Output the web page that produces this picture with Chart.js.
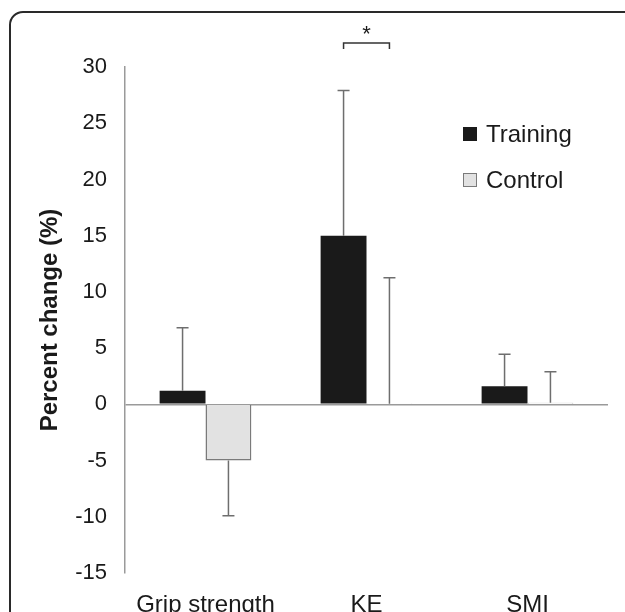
<!DOCTYPE html>
<html>
<head>
<meta charset="utf-8">
<script src="https://cdn.jsdelivr.net/npm/chart.js@4.4.1/dist/chart.umd.min.js"></script>
<style>
  html, body { margin: 0; padding: 0; background: #fff; }
  #wrap { position: relative; width: 625px; height: 612px; }
</style>
</head>
<body>
<div id="wrap"><canvas id="barChart"></canvas></div>
<script>
// data
const categories = ['Grip strength', 'KE', 'SMI'];
const trainingValues = [1.2, 15.0, 1.6];
const controlValues = [-5.0, 0.05, 0.15];
// one-sided error bars (SD), drawn away from zero
const trainingErrors = [5.6, 12.9, 2.85];
const controlErrors = [4.9, 11.2, 2.75];
const yTicks = [-15, -10, -5, 0, 5, 10, 15, 20, 25, 30];
// significance marker: category index + label
const sigCategory = 1;
const sigLabel = '*';

Chart.defaults.font.family = "'Liberation Sans', Arial, sans-serif";
Chart.defaults.color = '#1a1a1a';

// frame around the figure, cut off at right/bottom like the original
const framePlugin = {
    id: 'frame',
    beforeDraw(chart) {
        const ctx = chart.ctx;
        ctx.save();
        ctx.strokeStyle = '#2a2a2a';
        ctx.lineWidth = 2;
        ctx.beginPath();
        ctx.roundRect(10, 12, 640, 640, 13);
        ctx.stroke();
        ctx.restore();
    }
};

// error bars + significance bracket + legend
const extrasPlugin = {
    id: 'extras',
    afterDatasetsDraw(chart) {
        const ctx = chart.ctx;
        const y = chart.scales.y;
        const errs = [trainingErrors, controlErrors];
        ctx.save();
        ctx.strokeStyle = '#6e6e6e';
        ctx.lineWidth = 1.5;
        chart.data.datasets.forEach((ds, di) => {
            const meta = chart.getDatasetMeta(di);
            meta.data.forEach((bar, i) => {
                const v = ds.data[i];
                const e = errs[di][i];
                const end = v >= 0 ? v + e : v - e;
                const y0 = y.getPixelForValue(v);
                const y1 = y.getPixelForValue(end);
                ctx.beginPath();
                ctx.moveTo(bar.x, y0);
                ctx.lineTo(bar.x, y1);
                ctx.moveTo(bar.x - 6, y1);
                ctx.lineTo(bar.x + 6, y1);
                ctx.stroke();
            });
        });

        // bracket above KE
        const a = chart.getDatasetMeta(0).data[sigCategory];
        const b = chart.getDatasetMeta(1).data[sigCategory];
        ctx.strokeStyle = '#333';
        ctx.lineWidth = 1.5;
        ctx.beginPath();
        ctx.moveTo(a.x, 49);
        ctx.lineTo(a.x, 43);
        ctx.lineTo(b.x, 43);
        ctx.lineTo(b.x, 49);
        ctx.stroke();
        ctx.fillStyle = '#1a1a1a';
        ctx.font = "22px 'Liberation Sans', Arial, sans-serif";
        ctx.textAlign = 'center';
        ctx.textBaseline = 'middle';
        ctx.fillText(sigLabel, (a.x + b.x) / 2, 35);

        // legend
        ctx.textAlign = 'left';
        ctx.font = "24px 'Liberation Sans', Arial, sans-serif";
        chart.data.datasets.forEach((ds, di) => {
            const ly = 134 + di * 46;
            ctx.fillStyle = ds.backgroundColor;
            ctx.fillRect(463, ly - 7, 14, 14);
            ctx.strokeStyle = di === 0 ? '#1a1a1a' : '#7a7a7a';
            ctx.lineWidth = 1;
            ctx.strokeRect(463.5, ly - 6.5, 13, 13);
            ctx.fillStyle = '#1a1a1a';
            ctx.fillText(ds.label, 486, ly + 1);
        });
        ctx.restore();
    }
};

const bar = document.getElementById('barChart');
new Chart(bar, {
    type: 'bar',
    data: {
        labels: categories,
        datasets: [{
            label: 'Training',
            data: trainingValues,
            backgroundColor: '#1a1a1a',
            borderColor: '#1a1a1a',
            borderWidth: 0
        }, {
            label: 'Control',
            data: controlValues,
            backgroundColor: '#e2e2e2',
            borderColor: '#7a7a7a',
            borderWidth: 1.5
        }]
    },
    options: {
        responsive: true,
        maintainAspectRatio: false,
        animation: false,
        layout: { padding: { left: 36, right: 17, top: 67, bottom: 0 } },
        datasets: { bar: { categoryPercentage: 0.57, barPercentage: 1 } },
        scales: {
            x: {
                grid: { display: false, drawTicks: false },
                border: { display: false },
                ticks: { font: { size: 24 }, padding: 18, color: '#1a1a1a' },
                afterFit: (s) => { s.height = 612 - 573; }
            },
            y: {
                min: -15,
                max: 30,
                afterBuildTicks: (s) => { s.ticks = yTicks.map(v => ({ value: v })); },
                afterFit: (s) => { s.width = 125 - 36; },
                grid: {
                    drawTicks: false,
                    color: (c) => c.tick && c.tick.value === 0 ? '#9a9a9a' : 'rgba(0,0,0,0)',
                    lineWidth: 1.5
                },
                border: { display: true, color: '#9a9a9a', width: 1.5 },
                ticks: { font: { size: 22 }, padding: 18, color: '#1a1a1a' },
                title: {
                    display: true,
                    text: 'Percent change (%)',
                    font: { size: 24, weight: 'bold' },
                    color: '#1a1a1a',
                    padding: { top: 0, bottom: 0 }
                }
            }
        },
        plugins: {
            legend: { display: false },
            tooltip: { enabled: false }
        }
    },
    plugins: [framePlugin, extrasPlugin]
});
</script>
</body>
</html>
